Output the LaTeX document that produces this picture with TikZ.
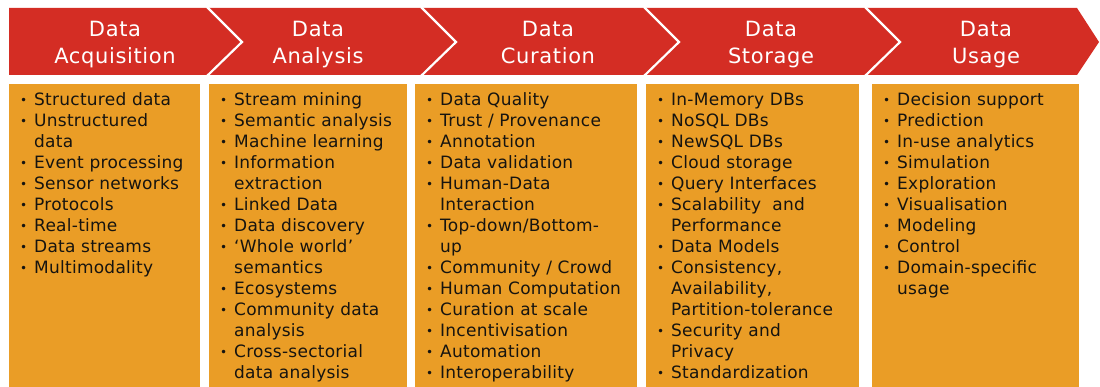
\documentclass[tikz,border=0pt]{standalone}
\usepackage{fontspec}
\setmainfont{DejaVu Sans}
\newfontfamily\headfont[LetterSpace=3]{DejaVu Sans}
\newfontfamily\listfont[LetterSpace=1.5]{DejaVu Sans}
\definecolor{bandred}{RGB}{212,45,36}
\definecolor{boxorange}{RGB}{234,157,38}
\definecolor{listtext}{RGB}{22,20,16}

% one bullet item and one continuation line of a list
\newcommand\bitem[1]{\hspace*{-14pt}\makebox[14pt][l]{\fontsize{12}{12}\selectfont\raisebox{1.2pt}{•}}#1\par}
\newcommand\bcont[1]{#1\par}

\tikzset{
  listbox/.style={fill=boxorange, draw=none, inner sep=0pt, anchor=north west, minimum height=303pt},
  listtxt/.style={anchor=base west, inner sep=0pt, text=listtext,
    font=\listfont\fontsize{17}{21}\selectfont},
  headtxt/.style={anchor=base, inner sep=0pt, text=white, align=center,
    font=\headfont\fontsize{21}{27}\selectfont},
  sepline/.style={draw=white, line width=2.2pt, line join=miter}
}

\begin{document}
\begin{tikzpicture}[x=1pt, y=-1pt]
\useasboundingbox (0,0) rectangle (1100,387);

% red chevron band
\fill[bandred] (9,8) -- (1077,8) -- (1099,42) -- (1077,75) -- (9,75) -- cycle;
\coordinate (s1a) at (207,7);  \coordinate (s1b) at (242,42); \coordinate (s1c) at (207,76);
\coordinate (s2a) at (421,7);  \coordinate (s2b) at (456,42); \coordinate (s2c) at (421,76);
\coordinate (s3a) at (644,7);  \coordinate (s3b) at (679,42); \coordinate (s3c) at (644,76);
\coordinate (s4a) at (865,7);  \coordinate (s4b) at (900,42); \coordinate (s4c) at (865,76);
\draw[sepline] (s1a) -- (s1b) -- (s1c);
\draw[sepline] (s2a) -- (s2b) -- (s2c);
\draw[sepline] (s3a) -- (s3b) -- (s3c);
\draw[sepline] (s4a) -- (s4b) -- (s4c);

% stage titles
\node[headtxt] (h1) at (115,36.5) {\parbox[t]{200pt}{\centering Data\\Acquisition}};
\node[headtxt] (h2) at (318,36.5) {\parbox[t]{200pt}{\centering Data\\Analysis}};
\node[headtxt] (h3) at (548,36.5) {\parbox[t]{200pt}{\centering Data\\Curation}};
\node[headtxt] (h4) at (771,36.5) {\parbox[t]{200pt}{\centering Data\\Storage}};
\node[headtxt] (h5) at (986,36.5) {\parbox[t]{200pt}{\centering Data\\Usage}};

% orange list boxes
\node[listbox, minimum width=191pt] (b1) at (9,84) {};
\node[listbox, minimum width=198pt] (b2) at (209,84) {};
\node[listbox, minimum width=222pt] (b3) at (415,84) {};
\node[listbox, minimum width=213pt] (b4) at (646,84) {};
\node[listbox, minimum width=207pt] (b5) at (872,84) {};

% list contents
\node[listtxt] (l1) at (34,106) {\parbox[t]{170pt}{%
\bitem{Structured data}
\bitem{Unstructured}
\bcont{data}
\bitem{Event processing}
\bitem{Sensor networks}
\bitem{Protocols}
\bitem{Real-time}
\bitem{Data streams}
\bitem{Multimodality}}};

\node[listtxt] (l2) at (234,106) {\parbox[t]{170pt}{%
\bitem{Stream mining}
\bitem{Semantic analysis}
\bitem{Machine learning}
\bitem{Information}
\bcont{extraction}
\bitem{Linked Data}
\bitem{Data discovery}
\bitem{‘Whole world’}
\bcont{semantics}
\bitem{Ecosystems}
\bitem{Community data}
\bcont{analysis}
\bitem{Cross-sectorial}
\bcont{data analysis}}};

\node[listtxt] (l3) at (440,106) {\parbox[t]{195pt}{%
\bitem{Data Quality}
\bitem{Trust / Provenance}
\bitem{Annotation}
\bitem{Data validation}
\bitem{Human-Data}
\bcont{Interaction}
\bitem{Top-down/Bottom-}
\bcont{up}
\bitem{Community / Crowd}
\bitem{Human Computation}
\bitem{Curation at scale}
\bitem{Incentivisation}
\bitem{Automation}
\bitem{Interoperability}}};

\node[listtxt] (l4) at (671,106) {\parbox[t]{185pt}{%
\bitem{In-Memory DBs}
\bitem{NoSQL DBs}
\bitem{NewSQL DBs}
\bitem{Cloud storage}
\bitem{Query Interfaces}
\bitem{Scalability\ \ and}
\bcont{Performance}
\bitem{Data Models}
\bitem{Consistency,}
\bcont{Availability,}
\bcont{Partition-tolerance}
\bitem{Security and}
\bcont{Privacy}
\bitem{Standardization}}};

\node[listtxt] (l5) at (897,106) {\parbox[t]{180pt}{%
\bitem{Decision support}
\bitem{Prediction}
\bitem{In-use analytics}
\bitem{Simulation}
\bitem{Exploration}
\bitem{Visualisation}
\bitem{Modeling}
\bitem{Control}
\bitem{Domain-specific}
\bcont{usage}}};
\end{tikzpicture}
\end{document}
